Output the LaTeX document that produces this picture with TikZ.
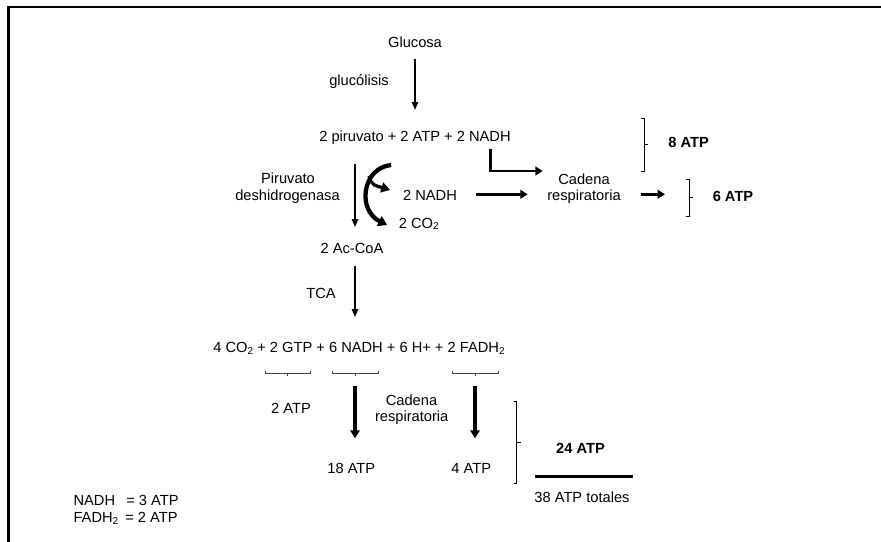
\documentclass[tikz,border=0pt]{standalone}
\usepackage{fontspec}
\setmainfont{Liberation Sans}
\usetikzlibrary{arrows.meta}
\newcommand{\sbt}[1]{\raisebox{-0.2ex}{\fontsize{7.5}{8}\selectfont #1}}
\begin{document}
\begin{tikzpicture}[x=0.75pt,y=-0.75pt,
 lbl/.style={inner sep=0pt, anchor=base, font=\fontsize{11}{13}\selectfont},
 lblw/.style={lbl, anchor=base west},
 boldlbl/.style={lbl, font=\fontsize{11}{13}\selectfont\bfseries},
 thinarr/.style={line width=1.1pt, -{Triangle[length=6pt,width=4.8pt]}},
 thickarr/.style={line width=2.2pt, -{Triangle[length=5.5pt,width=6.5pt]}},
 brk/.style={line width=0.6pt},
 ubrk/.style={line width=0.6pt, black!75},
 ]
\useasboundingbox (0,0) rectangle (881,542);
% frame
\draw[line width=1.6pt] (8.5,542) -- (8.5,7) -- (881,7);

% texts
\node[lbl] (glc) at (415,48) {Glucosa};
\node[lbl] (glys) at (359,85) {glucólisis};
\node[lbl] (pir) at (415,141.5) {2 piruvato + 2 ATP + 2 NADH};
\node[lbl] (pdh1) at (288,183) {Piruvato};
\node[lbl] (pdh2) at (287.5,200.5) {deshidrogenasa};
\node[lbl] (nadh) at (430,200.5) {2 NADH};
\node[lbl] (co2) at (418.7,228) {2 CO\sbt{2}};
\node[lbl] (cad1) at (584,184) {Cadena};
\node[lbl] (cad1b) at (584,200.7) {respiratoria};
\node[boldlbl] (atp8) at (688.7,147.3) {8 ATP};
\node[boldlbl] (atp6) at (733,201.7) {6 ATP};
\node[lbl] (acoa) at (352,253.5) {2 Ac-CoA};
\node[lbl] (tca) at (321,298.3) {TCA};
\node[lbl] (tcaprod) at (359,352.7) {4 CO\sbt{2} + 2 GTP + 6 NADH + 6 H+ + 2 FADH\sbt{2}};
\node[lbl] (atp2) at (291,413.3) {2 ATP};
\node[lbl] (cad2) at (411.5,405) {Cadena};
\node[lbl] (cad2b) at (411.7,421.7) {respiratoria};
\node[lbl] (atp18) at (351.3,473.3) {18 ATP};
\node[lbl] (atp4) at (471.3,473.3) {4 ATP};
\node[boldlbl] (atp24) at (580.5,453.3) {24 ATP};
\node[lbl] (tot) at (582,502.7) {38 ATP totales};
\node[lblw] (k1) at (73.3,505.7) {NADH};
\node[lblw] (k1v) at (126,505.7) {= 3 ATP};
\node[lblw] (k2) at (73.3,522.7) {FADH\sbt{2}};
\node[lblw] (k2v) at (125,522.7) {= 2 ATP};

% connector end points
\coordinate (g1) at (415,59);   \coordinate (g2) at (415,110);
\coordinate (p1) at (355,163.5); \coordinate (p2) at (355,227);
\coordinate (t1) at (355,266);   \coordinate (t2) at (355,317);
\coordinate (e1) at (490.7,149.3); \coordinate (e2) at (542.7,171);
\coordinate (n1) at (475.7,194.3); \coordinate (n2) at (527.7,194.3);
\coordinate (c1) at (640.7,194.3); \coordinate (c2) at (665,194.3);
\coordinate (b1) at (355,386);   \coordinate (b2) at (355,438.3);
\coordinate (f1) at (475,386);   \coordinate (f2) at (475,438.3);
\coordinate (cv1) at (391,165);  \coordinate (cv2) at (387,225);
\coordinate (br1) at (369,176);  \coordinate (br2) at (390,190);

% arrows
\draw[thinarr] (g1) -- (g2);
\draw[thinarr] (p1) -- (p2);
\draw[thinarr] (t1) -- (t2);
\draw[thickarr] (e1) |- (e2);
\draw[thickarr] (n1) -- (n2);
\draw[thickarr] (c1) -- (c2);
\draw[line width=2.4pt, -{Triangle[length=6pt,width=7pt]}] (b1) -- (b2);
\draw[line width=2.4pt, -{Triangle[length=6pt,width=7pt]}] (f1) -- (f2);
\draw[line width=3.2pt, -{Triangle[length=6.5pt,width=8pt]}] (cv1) .. controls (362,168) and (357,210) .. (cv2);
\draw[line width=2.4pt, -{Triangle[length=6.5pt,width=7.5pt]}] (br1) .. controls (371,186) and (377,186) .. (br2);

% brackets
\draw[brk] (641,118.3) -- (644,118.3) -- (644,171) -- (641,171);
\draw[brk] (644,144.3) -- (648,144.3);
\draw[brk] (686.3,179) -- (689.3,179) -- (689.3,216.7) -- (686.3,216.7);
\draw[brk] (689.3,197.8) -- (693.3,197.8);
\draw[brk] (513.7,401.7) -- (516.7,401.7) -- (516.7,483.3) -- (513.7,483.3);
\draw[brk] (516.7,442.3) -- (520.7,442.3);

% under-brackets
\draw[ubrk] (265,371) -- (265,373) -- (310.7,373) -- (310.7,371);
\draw[ubrk] (287.7,373) -- (287.7,375.5);
\draw[ubrk] (332.3,371) -- (332.3,373) -- (378.3,373) -- (378.3,371);
\draw[ubrk] (355,373) -- (355,375.5);
\draw[ubrk] (452.7,371) -- (452.7,373) -- (498.3,373) -- (498.3,371);
\draw[ubrk] (475,373) -- (475,375.5);

% total line
\draw[line width=2.3pt] (535,476.7) -- (632.7,476.7);
\end{tikzpicture}
\end{document}
